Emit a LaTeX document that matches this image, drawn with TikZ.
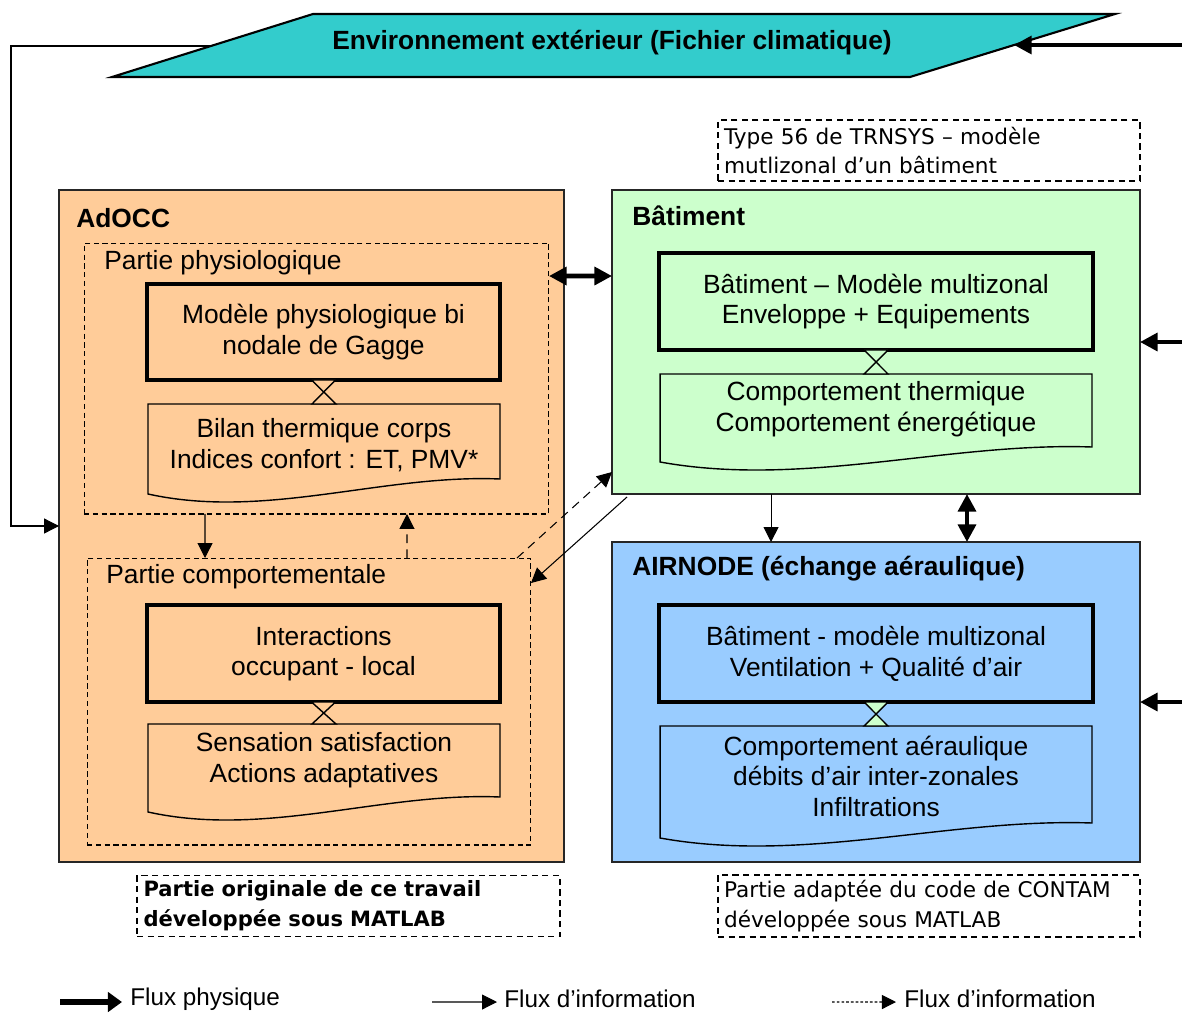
\documentclass[tikz,border=0pt]{standalone}
\usepackage{fontspec}
\setmainfont{Liberation Sans}
\newfontfamily\verdfont{DejaVu Sans}
\usetikzlibrary{arrows.meta,calc}

\definecolor{envteal}{HTML}{33CCCC}
\definecolor{occpeach}{HTML}{FFCC99}
\definecolor{batgreen}{HTML}{CCFFCC}
\definecolor{airblue}{HTML}{99CCFF}

\newcommand{\mainsize}{\fontsize{15}{17.4}\selectfont}
\newcommand{\notesize}{\verdfont\fontsize{12.3}{17}\selectfont}
\newcommand{\notebold}{\verdfont\fontsize{12}{17}\selectfont\bfseries}
\newcommand{\legendsize}{\fontsize{13.8}{16}\selectfont}

\tikzset{
  zone/.style={draw=black!85, line width=0.8pt, outer sep=0pt},
  partbox/.style={draw, dash pattern=on 3pt off 2pt, line width=0.6pt, outer sep=0pt},
  model/.style={draw, line width=1.8pt, outer sep=0pt, align=center, font=\mainsize},
  docarea/.style={outer sep=0pt, inner sep=0pt},
  doctext/.style={align=center, font=\mainsize},
  notebox/.style={draw, dash pattern=on 3.5pt off 2.5pt, line width=0.8pt, align=left, font=\notesize, inner sep=3pt, text width=8.2cm},
  zonetitle/.style={anchor=west, font=\mainsize\bfseries, inner sep=0pt},
  parttitle/.style={anchor=west, font=\mainsize, inner sep=0pt},
  phys/.style={line width=2.8pt, -{Triangle[length=10pt,width=10pt]}},
  physboth/.style={line width=2.8pt, {Triangle[length=10pt,width=10pt]}-{Triangle[length=10pt,width=10pt]}},
  info/.style={line width=0.6pt, -{Triangle[length=8.5pt,width=8.5pt]}},
  infodash/.style={info, dash pattern=on 5pt off 3.5pt},
  collate/.style={draw, line width=0.8pt, fill=#1},
  docline/.style={draw, line width=0.8pt},
  legendtext/.style={anchor=west, font=\legendsize, inner sep=0pt}
}

% document shape with wavy bottom, drawn round a named node
\newcommand{\docbottom}[2]{%
  \draw[docline, fill=#2] (#1.north west) -- (#1.north east) -- ([yshift=0.3cm]#1.south east)
    .. controls ($(#1.south west)!2/3!(#1.south east)+(0,0.4cm)$) and ($(#1.south west)!1/3!(#1.south east)+(0,-0.52cm)$) .. (#1.south west) -- cycle;}

\begin{document}
\begin{tikzpicture}[x=0.02cm, y=-0.02cm]
  \useasboundingbox (0,0) rectangle (1182,1014);

  % environnement exterieur
  \draw[line width=1.2pt, fill=envteal] (313,14) -- (1115,14) -- (910,77) -- (112,77) -- cycle;
  \node[font=\mainsize\bfseries] (env) at (612,43) {Environnement extérieur (Fichier climatique)};
  \coordinate (envE) at (1014,45);
  \coordinate (envW) at (211,46);

  % zones
  \node[zone, fill=occpeach, minimum width=10.1cm, minimum height=13.44cm] (adocc) at (311.5,526) {};
  \node[zone, fill=batgreen, minimum width=10.56cm, minimum height=6.08cm] (bat) at (876,342) {};
  \node[zone, fill=airblue, minimum width=10.56cm, minimum height=6.4cm] (air) at (876,702) {};
  \node[zonetitle] (adocctitle) at (76,218) {AdOCC};
  \node[zonetitle] (battitle) at (632,216) {Bâtiment};
  \node[zonetitle] (airtitle) at (632,569) {AIRNODE (échange aéraulique)};

  % parties de AdOCC
  \node[partbox, minimum width=9.3cm, minimum height=5.42cm] (physio) at (316.5,378.5) {};
  \node[partbox, minimum width=8.88cm, minimum height=5.74cm] (comport) at (309,701.5) {};
  \node[parttitle] (physiotitle) at (104,263) {Partie physiologique};
  \node[parttitle] (comporttitle) at (106,577) {Partie comportementale};

  % modeles
  \node[model, fill=occpeach, minimum width=7.06cm, minimum height=1.92cm] (gagge) at (323.5,332) {Modèle physiologique bi\\nodale de Gagge};
  \node[model, fill=occpeach, minimum width=7.06cm, minimum height=1.94cm] (interact) at (323.5,653.5) {Interactions\\occupant - local};
  \node[model, fill=batgreen, minimum width=8.68cm, minimum height=1.94cm] (batmodel) at (876,301.5) {Bâtiment – Modèle multizonal\\Enveloppe + Equipements};
  \node[model, fill=airblue, minimum width=8.68cm, minimum height=1.94cm] (airmodel) at (876,653.5) {Bâtiment - modèle multizonal\\Ventilation + Qualité d’air};

  % sorties (documents)
  \node[docarea, minimum width=7.04cm, minimum height=1.8cm] (bilan) at (324,449) {};
  \docbottom{bilan}{occpeach}
  \node[doctext] (bilantext) at (324,445) {Bilan thermique corps\\Indices confort : ET, PMV*};

  \node[docarea, minimum width=7.04cm, minimum height=1.76cm] (sensation) at (324,768) {};
  \docbottom{sensation}{occpeach}
  \node[doctext] (sensationtext) at (324,760) {Sensation satisfaction\\Actions adaptatives};

  \node[docarea, minimum width=8.64cm, minimum height=1.76cm] (batcomp) at (876,418) {};
  \docbottom{batcomp}{batgreen}
  \node[doctext] (batcomptext) at (876,409) {Comportement thermique\\Comportement énergétique};

  \node[docarea, minimum width=8.64cm, minimum height=2.24cm] (aircomp) at (876,782) {};
  \docbottom{aircomp}{airblue}
  \node[doctext] (aircomptext) at (876,776) {Comportement aéraulique\\débits d’air inter-zonales\\Infiltrations};

  % liaisons modele - sortie
  \draw[collate=occpeach] ([xshift=-0.24cm]gagge.south) -- ([xshift=0.24cm]bilan.north) -- ([xshift=-0.24cm]bilan.north) -- ([xshift=0.24cm]gagge.south) -- cycle;
  \draw[collate=occpeach] ([xshift=-0.24cm]interact.south) -- ([xshift=0.24cm]sensation.north) -- ([xshift=-0.24cm]sensation.north) -- ([xshift=0.24cm]interact.south) -- cycle;
  \draw[collate=batgreen] ([xshift=-0.24cm]batmodel.south) -- ([xshift=0.24cm]batcomp.north) -- ([xshift=-0.24cm]batcomp.north) -- ([xshift=0.24cm]batmodel.south) -- cycle;
  \draw[collate=batgreen] ([xshift=-0.24cm]airmodel.south) -- ([xshift=0.24cm]aircomp.north) -- ([xshift=-0.24cm]aircomp.north) -- ([xshift=0.24cm]airmodel.south) -- cycle;

  % notes
  \node[notebox, minimum width=8.44cm, minimum height=1.22cm] (trnsys) at (929,150.5) {Type 56 de TRNSYS – modèle\\mutlizonal d’un bâtiment};
  \node[notebox, font=\notebold, minimum width=8.46cm, minimum height=1.2cm] (original) at (348.5,906) {Partie originale de ce travail\\développée sous MATLAB};
  \node[notebox, minimum width=8.44cm, minimum height=1.2cm] (contam) at (929,906) {Partie adaptée du code de CONTAM\\développée sous MATLAB};

  % flux physiques
  \coordinate (srcenv) at (1182,45);
  \coordinate (srcbat) at (1182,342);
  \coordinate (srcair) at (1182,702);
  \draw[phys] (srcenv) -- (envE);
  \draw[phys] (srcbat) -- (bat.east);
  \draw[phys] (srcair) -- (air.east);
  \draw[physboth] ([yshift=2.05cm]physio.east) -- ([yshift=1.32cm]bat.west);
  \draw[physboth] ([xshift=1.82cm]bat.south) -- ([xshift=1.82cm]air.north);

  % flux d'information
  \coordinate (loopN) at (11,46);
  \coordinate (loopS) at (11,526);
  \draw[info] (envW) -- (loopN) -- (loopS) -- (adocc.west);
  \draw[info] ([xshift=-2.1cm]bat.south) -- ([xshift=-2.1cm]air.north);
  \draw[info] ([xshift=0.3cm,yshift=-0.06cm]bat.south west) -- ([yshift=-0.5cm]comport.north east);
  \draw[info] ([xshift=-2.23cm]physio.south) -- ([xshift=-2.08cm]comport.north);
  \draw[infodash] ([xshift=-0.28cm]comport.north east) -- ([yshift=0.44cm]bat.south west);
  \draw[infodash] ([xshift=1.96cm]comport.north) -- ([xshift=1.81cm]physio.south);

  % legende
  \node[legendtext] (legphys) at (130,999) {Flux physique};
  \node[legendtext] (leginfo) at (504,999) {Flux d’information};
  \node[legendtext] (legdash) at (904,999) {Flux d’information};
  \coordinate (legphysA) at (60,1002);
  \coordinate (leginfoA) at (432,1002);
  \coordinate (legdashA) at (832,1002);
  \draw[line width=3.2pt, -{Triangle[length=8pt,width=11pt]}] (legphysA) -- ([xshift=-0.16cm,yshift=-0.06cm]legphys.west);
  \draw[info] (leginfoA) -- ([xshift=-0.14cm,yshift=-0.06cm]leginfo.west);
  \draw[line width=0.6pt, dash pattern=on 1.5pt off 1.2pt, -{Triangle[length=8pt,width=8pt]}] (legdashA) -- ([xshift=-0.16cm,yshift=-0.06cm]legdash.west);
\end{tikzpicture}
\end{document}
